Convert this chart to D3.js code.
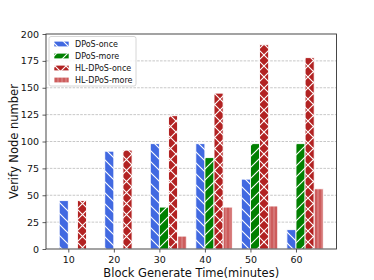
<!DOCTYPE html>
<html>
<head>
<meta charset="utf-8">
<script src="https://cdn.jsdelivr.net/npm/d3@7"></script>
<style>
  body { margin: 0; background: #fff; }
  text { font-family: "DejaVu Sans", sans-serif; }
</style>
</head>
<body>
<div id="chart"></div>
<script>
// data
const times = [10, 20, 30, 40, 50, 60];
const dposOnce = [45, 91, 98, 98, 65, 18];
const dposMore = [0, 0, 39, 85, 98, 98];
const hlOnce = [45, 92, 124, 145, 190, 178];
const hlMore = [0, 0, 12, 39, 40, 56];
const yTicks = [0, 25, 50, 75, 100, 125, 150, 175, 200];

const series = [
  { name: "DPoS-once", values: dposOnce, color: "#4169e1", hatch: "back", offset: -2 },
  { name: "DPoS-more", values: dposMore, color: "#008000", hatch: "fwd", offset: 0 },
  { name: "HL-DPoS-once", values: hlOnce, color: "#b22222", hatch: "cross", offset: 2 },
  { name: "HL-DPoS-more", values: hlMore, color: "#cd5c5c", hatch: "vert", offset: 4 }
];

const W = 374, H = 280;
const margin = { top: 34, right: 37.5, bottom: 31, left: 46 };
const barW = 2;

const svg = d3.select("#chart").append("svg")
  .attr("width", W).attr("height", H);

// hatch patterns
const defs = svg.append("defs");
const hp = 11;
function addPattern(id, draw, size) {
  const p = defs.append("pattern").attr("id", id)
    .attr("patternUnits", "userSpaceOnUse")
    .attr("width", size).attr("height", size);
  draw(p, size);
}
addPattern("back", (p, s) => {
  p.append("path").attr("d", `M0,0L${s},${s}M${-s},0L${s},${2*s}M0,${-s}L${2*s},${s}`)
    .attr("stroke", "#fff").attr("stroke-width", 1.1);
}, hp);
addPattern("fwd", (p, s) => {
  p.append("path").attr("d", `M0,${s}L${s},0M${-s},${s}L${s},${-s}M0,${2*s}L${2*s},0`)
    .attr("stroke", "#fff").attr("stroke-width", 1.1);
}, hp);
addPattern("cross", (p, s) => {
  p.append("path").attr("d", `M0,0L${s},${s}M0,${s}L${s},0`)
    .attr("stroke", "#fff").attr("stroke-width", 1.1);
}, hp);
addPattern("vert", (p, s) => {
  p.append("path").attr("d", `M2,0V${s}`)
    .attr("stroke", "#fff").attr("stroke-width", 0.7).attr("stroke-opacity", 0.45);
}, 4);

const x = d3.scaleLinear()
  .domain([5.1, 68.9])
  .range([margin.left, W - margin.right]);
const y = d3.scaleLinear()
  .domain([0, 200])
  .range([H - margin.bottom, margin.top]);

// grid
svg.append("g")
  .selectAll("line")
  .data(yTicks.slice(1, -1))
  .join("line")
  .attr("x1", margin.left).attr("x2", W - margin.right)
  .attr("y1", d => y(d)).attr("y2", d => y(d))
  .attr("stroke", "#b0b0b0").attr("stroke-width", 0.7)
  .attr("stroke-dasharray", "2.6,1.2");

// bars
series.forEach(s => {
  const g = svg.append("g");
  const rows = times.map((t, i) => ({ t, v: s.values[i] })).filter(d => d.v > 0);
  g.selectAll("rect.fill")
    .data(rows)
    .join("rect")
    .attr("x", d => x(d.t + s.offset))
    .attr("width", d => x(d.t + s.offset + barW) - x(d.t + s.offset))
    .attr("y", d => y(d.v))
    .attr("height", d => y(0) - y(d.v))
    .attr("fill", s.color);
  g.selectAll("rect.hatch")
    .data(rows)
    .join("rect")
    .attr("x", d => x(d.t + s.offset))
    .attr("width", d => x(d.t + s.offset + barW) - x(d.t + s.offset))
    .attr("y", d => y(d.v))
    .attr("height", d => y(0) - y(d.v))
    .attr("fill", `url(#${s.hatch})`)
    .attr("stroke", "#fff").attr("stroke-width", 0.9);
});

// axes
const xAxis = d3.axisBottom(x).tickValues(times).tickSize(3.5).tickPadding(3.5);
const yAxis = d3.axisLeft(y).tickValues(yTicks).tickSize(3.5).tickPadding(3.5);

const gx = svg.append("g")
  .attr("transform", `translate(0,${H - margin.bottom})`)
  .call(xAxis);
const gy = svg.append("g")
  .attr("transform", `translate(${margin.left},0)`)
  .call(yAxis);
[gx, gy].forEach(g => {
  g.select(".domain").remove();
  g.selectAll("line").attr("stroke", "#333").attr("stroke-width", 0.8);
  g.selectAll("text").attr("font-size", 9.5).attr("fill", "#111")
    .attr("font-family", "DejaVu Sans");
});

// frame
svg.append("rect")
  .attr("x", margin.left).attr("y", margin.top)
  .attr("width", W - margin.right - margin.left)
  .attr("height", H - margin.bottom - margin.top)
  .attr("fill", "none").attr("stroke", "#333").attr("stroke-width", 0.9);

// labels
svg.append("text")
  .attr("x", (margin.left + W - margin.right) / 2)
  .attr("y", 276.5)
  .attr("text-anchor", "middle")
  .attr("font-size", 11.5)
  .attr("fill", "#111")
  .text("Block Generate Time(minutes)");
svg.append("text")
  .attr("transform", `translate(18,${(margin.top + H - margin.bottom) / 2}) rotate(-90)`)
  .attr("text-anchor", "middle")
  .attr("font-size", 11.5)
  .attr("fill", "#111")
  .text("Verify Node number");

// legend
const lg = svg.append("g");
lg.append("rect")
  .attr("x", 49).attr("y", 36.5)
  .attr("width", 87).attr("height", 49.5)
  .attr("rx", 2)
  .attr("fill", "#fff").attr("fill-opacity", 0.85)
  .attr("stroke", "#ccc").attr("stroke-width", 0.8);
series.forEach((s, i) => {
  const cy = 44 + i * 12;
  lg.append("rect")
    .attr("x", 54).attr("y", cy - 2.8)
    .attr("width", 15).attr("height", 5.6)
    .attr("fill", s.color);
  lg.append("rect")
    .attr("x", 54).attr("y", cy - 2.8)
    .attr("width", 15).attr("height", 5.6)
    .attr("fill", `url(#${s.hatch})`)
    .attr("stroke", "#fff").attr("stroke-width", 0.6);
  lg.append("text")
    .attr("x", 75).attr("y", cy + 3)
    .attr("font-size", 8)
    .attr("fill", "#111")
    .text(s.name);
});
</script>
</body>
</html>
